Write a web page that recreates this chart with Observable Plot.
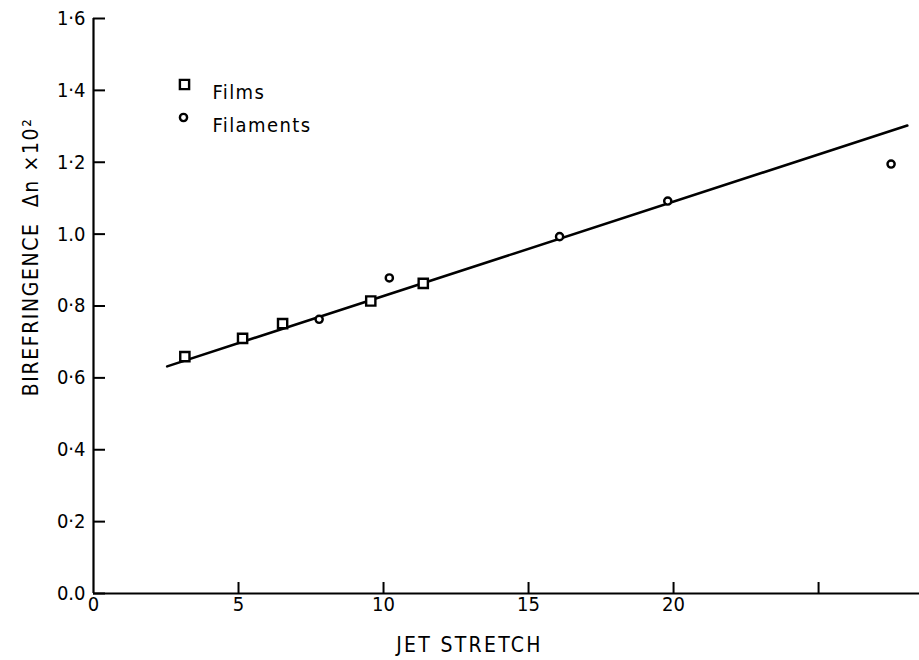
<!DOCTYPE html>
<html><head><meta charset="utf-8">
<script src="https://cdn.jsdelivr.net/npm/d3@7"></script>
<script src="https://cdn.jsdelivr.net/npm/@observablehq/plot@0.6"></script>
<style>body{margin:0;background:#fff} svg{display:block}</style>
</head><body><div id="chart"></div>
<script>
// Films (squares)
const filmX = [3.15, 5.14, 6.52, 9.56, 11.37];
const filmY = [0.659, 0.710, 0.751, 0.814, 0.863];
// Filaments (circles)
const filamentX = [7.78, 10.2, 16.07, 19.8, 27.5];
const filamentY = [0.763, 0.878, 0.993, 1.092, 1.195];
// fitted straight line end points
const fitX = [2.54, 28.06];
const fitY = [0.632, 1.302];
// ticks
const xTicks = [0, 5, 10, 15, 20, 25];
const xTickLabels = ["0", "5", "10", "15", "20", ""];
const yTicks = [0, 0.2, 0.4, 0.6, 0.8, 1.0, 1.2, 1.4, 1.6];
const yTickLabels = ["0.0", "0·2", "0·4", "0·6", "0·8", "1.0", "1·2", "1·4", "1·6"];
const legendLabels = ["Films", "Filaments"];
const xTitle = "JET STRETCH";
const yTitle = "BIREFRINGENCE  Δn ×10²";

const films = filmX.map((x, i) => ({x, y: filmY[i]}));
const filaments = filamentX.map((x, i) => ({x, y: filamentY[i]}));
const fit = fitX.map((x, i) => ({x, y: fitY[i]}));

const font = "'DejaVu Sans Condensed', 'Liberation Sans Narrow', 'DejaVu Sans', sans-serif";
const W = 919, ML = 93, MR = 0;
const xDomain = [0, 28.48];
// inward y tick length: 12 px expressed in x-data units
const yTickLen = 12 * (xDomain[1] - xDomain[0]) / (W - ML - MR);
const yTickRows = yTicks.map(y => ({y, x1: xDomain[0], x2: xDomain[0] + yTickLen}));

const chart = Plot.plot({
  width: W,
  height: 660,
  marginLeft: ML,
  marginRight: MR,
  marginTop: 18,
  marginBottom: 67,
  style: {fontFamily: font, fontSize: "20px", color: "#000", background: "#fff"},
  x: {domain: xDomain, label: null},
  y: {domain: [0, 1.6], label: null},
  marks: [
    // tick labels
    Plot.axisY({ticks: yTicks, tickFormat: d => yTickLabels[yTicks.indexOf(d)], tickSize: 0, tickPadding: 8, label: null, fontSize: 20}),
    Plot.axisX({ticks: xTicks, tickFormat: d => xTickLabels[xTicks.indexOf(d)], tickSize: 0, tickPadding: 3, label: null, fontSize: 20}),
    // inward tick marks
    Plot.ruleY(yTickRows, {y: "y", x1: "x1", x2: "x2", stroke: "#000", strokeWidth: 2}),
    Plot.axisX({ticks: xTicks.slice(1), tickFormat: () => "", tickSize: 11, dy: -11, strokeWidth: 2, label: null}),
    // axis lines
    Plot.ruleX([0], {strokeWidth: 2.2}),
    Plot.ruleY([0], {strokeWidth: 2.2}),
    Plot.line(fit, {x: "x", y: "y", strokeWidth: 2.6, stroke: "#000"}),
    Plot.dot(films, {x: "x", y: "y", symbol: "square", r: 5.2, stroke: "#000", strokeWidth: 2.4, fill: "#fff"}),
    Plot.dot(filaments, {x: "x", y: "y", symbol: "circle", r: 3.6, stroke: "#000", strokeWidth: 2.4, fill: "#fff"}),
    // legend
    Plot.dot([legendLabels[0]], {frameAnchor: "top-left", dx: 91, dy: 66, symbol: "square", r: 5.2, stroke: "#000", strokeWidth: 2.4, fill: "#fff"}),
    Plot.dot([legendLabels[1]], {frameAnchor: "top-left", dx: 90, dy: 99, symbol: "circle", r: 3.6, stroke: "#000", strokeWidth: 2.4, fill: "#fff"}),
    Plot.text([legendLabels[0]], {text: d => d, frameAnchor: "top-left", dx: 119, dy: 66, textAnchor: "start", fontSize: 20, ariaDescription: "legend"}),
    Plot.text([legendLabels[1]], {text: d => d, frameAnchor: "top-left", dx: 119, dy: 99, textAnchor: "start", fontSize: 20, ariaDescription: "legend"}),
    // titles
    Plot.text([xTitle], {text: d => d, frameAnchor: "bottom", textAnchor: "middle", dx: -37, dy: 58, fontSize: 21, ariaDescription: "xtitle"}),
    Plot.text([yTitle], {text: d => d, frameAnchor: "left", textAnchor: "middle", rotate: -90, dx: -62, dy: -49, fontSize: 21, ariaDescription: "ytitle"})
  ]
});
// letter spacing of the lettering
const sel = d3.select(chart);
sel.selectAll('[aria-description="xtitle"] text').attr("letter-spacing", "2.3px");
sel.selectAll('[aria-description="ytitle"] text').attr("letter-spacing", "1.6px");
sel.selectAll('[aria-description="legend"] text').attr("letter-spacing", "1.4px");
document.getElementById("chart").appendChild(chart);
</script>
</body></html>
